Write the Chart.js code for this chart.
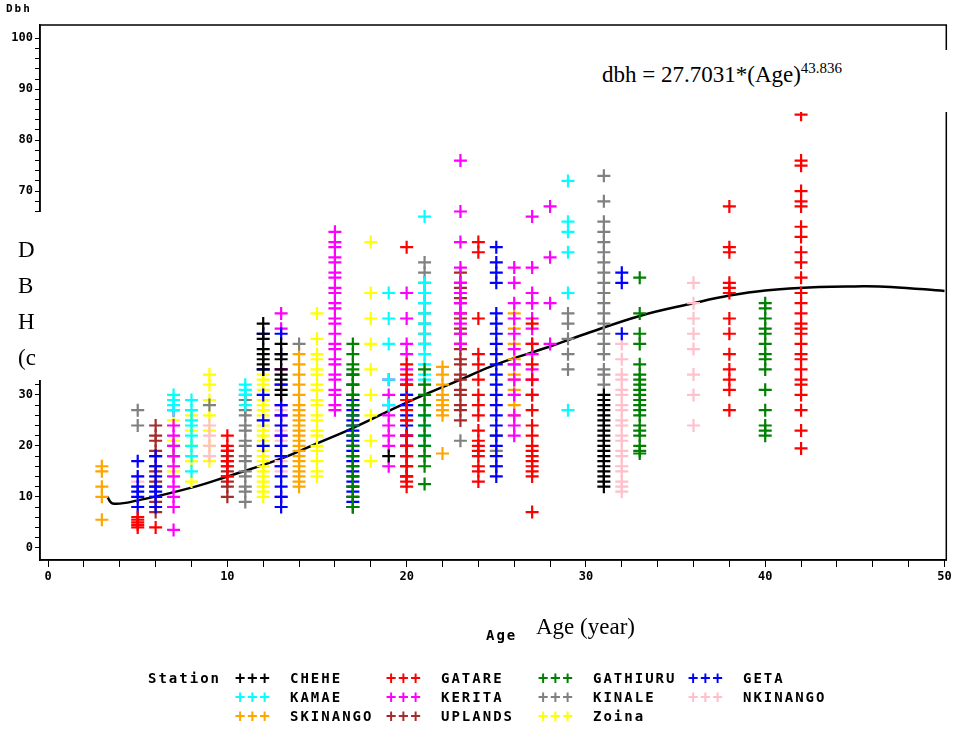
<!DOCTYPE html>
<html lang="en">
<head>
<meta charset="UTF-8">
<title>DBH vs Age</title>
<script src="https://cdn.jsdelivr.net/npm/chart.js"></script>
<style>
    body { margin: 0; background: #fff; }
    #wrap { position: relative; width: 955px; height: 735px; }
    .times { position: absolute; font-family: "Liberation Serif", serif; font-size: 23px; color: #000; background: #fff; }
    .leg { position: absolute; font-family: "DejaVu Sans Mono", monospace; font-weight: bold; font-size: 14px; letter-spacing: 2px; white-space: nowrap; }
</style>
</head>
<body>
<div id="wrap">
    <canvas id="c" width="955" height="735"></canvas>
</div>
<script>
// station data: [age, [dbh values]]
const chehe = [[12, [35, 36, 37, 38, 39, 41, 42, 44]], [13, [30, 31, 33, 34, 35, 37, 38, 40]], [19, [18]], [31, [12, 13, 14, 15, 16, 17, 18, 19, 20, 21, 22, 23, 24, 25, 26, 27, 28, 29, 30]]];
const kamae = [[7, [27, 28, 29, 30]], [8, [15, 18, 20, 22, 24, 25, 27, 29]], [11, [28, 30, 31, 32]], [19, [28, 33, 40, 45, 50]], [21, [18, 20, 22, 24, 26, 28, 30, 32, 33, 34, 36, 38, 40, 42, 44, 46, 48, 50, 52, 65]], [29, [27, 50, 58, 62, 64, 72]]];
const skinango = [[3, [5.5, 10, 12, 15, 16]], [14, [12, 13, 14, 15, 16, 17, 18, 19, 20, 21, 22, 23, 24, 25, 26, 27, 28, 30, 32, 34, 36, 38]], [22, [18.5, 26, 27, 28, 29, 30, 32, 34, 35.5]], [26, [26, 28, 30, 31, 33, 34, 36, 37, 40, 43, 46]]];
const gatare = [[5, [4, 4.5, 5, 5.5, 6]], [6, [4]], [10, [14, 16, 17, 19, 20, 22]], [20, [12, 13, 14, 16, 18, 20, 22, 25, 27, 29, 32, 34, 36, 59]], [24, [13, 15, 16, 18, 19, 20, 21, 23, 26, 28, 30, 33, 36, 38, 45, 58, 60]], [27, [7, 14, 15, 16, 17, 18, 19, 20, 22, 24, 27, 30, 33, 36, 40, 44]], [38, [27, 31, 33, 35, 38, 42, 45, 50, 51, 52, 58, 59, 67]], [42, [19.5, 23, 27, 30, 32, 33, 35, 37, 38, 40, 42, 43, 44, 46, 48, 50, 53, 56, 58, 61, 63, 67, 68, 70, 75, 76, 85]]];
const kerita = [[7, [3.5, 8, 10, 12, 14, 16, 18, 20, 22, 24, 27]], [13, [10, 16, 22, 26, 28, 32, 35, 43, 46]], [16, [27, 28, 30, 31, 33, 34, 36, 37, 39, 40, 42, 44, 45, 47, 48, 50, 51, 53, 54, 56, 57, 59, 60, 62]], [19, [16, 20, 22, 24, 26, 28, 30, 33]], [20, [20, 22, 25, 28, 30, 33, 35, 38, 40, 45, 50]], [23, [40, 42, 44, 46, 48, 50, 52, 55, 60, 66, 76]], [26, [22, 24, 26, 30, 33, 36, 39, 42, 45, 48, 52, 55]], [27, [30, 33, 35, 38, 40, 43, 45, 48, 50, 55, 65]], [28, [40, 48, 57, 67]]];
const uplands = [[6, [7, 9, 10, 12, 13, 15, 16, 18, 19, 21, 22, 24]], [10, [10, 12, 13, 14, 15, 16, 17, 18, 19]], [23, [25, 27, 28, 30, 31, 33, 34, 36, 37, 39, 40, 42, 43, 45, 46, 48, 49, 51, 52, 54]]];
const gathiuru = [[17, [8, 10, 12, 14, 16, 18, 20, 22, 24, 26, 28, 30, 32, 34, 35, 36, 38, 40]], [21, [12.5, 16, 18, 20, 22, 24, 26, 28, 30, 32, 35]], [33, [18.5, 19, 20, 22, 23, 24, 26, 27, 28, 29, 30, 31, 32, 33, 34, 36, 40, 42, 46, 53]], [40, [22, 23, 24, 27, 31, 35, 37, 38, 40, 42, 43, 45, 47, 48]]];
const kinale = [[5, [24, 27]], [7, [18, 20]], [9, [28]], [11, [9, 11, 12, 14, 15, 17, 18, 20, 21, 23, 24, 26, 27, 29, 30]], [14, [40]], [21, [40, 42, 44, 46, 48, 50, 52, 54, 56]], [23, [21]], [25, [16, 19, 22]], [29, [35, 38, 41, 44, 46]], [31, [32, 34, 35, 38, 40, 42, 44, 46, 48, 50, 52, 54, 56, 58, 60, 62, 64, 68, 73]]];
const geta = [[5, [8, 10, 11, 12, 14, 17]], [6, [8, 10, 11, 12, 14, 16, 18]], [12, [20, 25, 30, 35, 42]], [13, [8, 10, 12, 14, 16, 18, 20, 22, 24, 26, 28, 32, 38, 42]], [17, [8, 9, 10, 11, 12, 13, 14, 15, 16, 17, 18, 19, 20, 21, 22, 23, 24, 25, 26, 27, 28, 29, 30, 32, 34]], [20, [14, 16, 18, 20, 22, 24, 26, 28, 30, 32]], [25, [14, 16, 18, 20, 22, 24, 26, 28, 30, 32, 34, 36, 38, 40, 42, 44, 46, 52, 54, 56, 59]], [32, [42, 52, 54]]];
const zoina = [[7, [15, 18, 21, 25]], [8, [13, 17, 20, 23, 26]], [9, [17, 20, 23, 26, 29, 32, 34]], [12, [10, 11, 12, 13, 14, 15, 16, 17, 18, 19, 20, 21, 22, 23, 24, 25, 26, 27, 28, 29, 30, 31, 32, 33, 34]], [15, [14, 15, 17, 19, 20, 22, 23, 25, 26, 28, 29, 31, 32, 34, 35, 37, 38, 41, 46]], [18, [17, 21, 26, 30, 35, 40, 45, 50, 60]]];
const nkinango = [[5, [10, 12, 13, 14]], [9, [18, 20, 22, 24]], [13, [15, 17, 18, 20, 21, 23, 24, 26, 27, 30]], [32, [11, 12, 13, 15, 16, 18, 19, 21, 22, 24, 25, 27, 28, 30, 31, 33, 34, 37, 40]], [36, [24, 30, 34, 39, 42, 45, 48, 52]]];

const stations = [
    ['CHEHE', chehe, '#000000'], ['GATARE', gatare, '#ff0000'], ['GATHIURU', gathiuru, '#008000'], ['GETA', geta, '#0000ff'],
    ['KAMAE', kamae, '#00ffff'], ['KERITA', kerita, '#ff00ff'], ['KINALE', kinale, '#808080'], ['NKINANGO', nkinango, '#ffc0cb'],
    ['SKINANGO', skinango, '#ffa500'], ['UPLANDS', uplands, '#a52a2a'], ['Zoina', zoina, '#ffff00']
];

// fitted curve
const fitAge = [3.3, 3.6, 5, 8, 10, 13, 15, 17, 20, 23, 25, 28, 30, 33, 36, 38, 40, 43, 45, 47, 50];
const fitDbh = [10, 8.7, 9.3, 11.8, 14, 17.5, 20.5, 23.5, 28.5, 33, 36, 39.5, 42, 45.5, 48, 49.5, 50.5, 51.2, 51.3, 51.2, 50.4];

const datasets = stations.map(s => ({
    type: 'scatter',
    label: s[0],
    data: s[1].flatMap(g => g[1].map(v => ({ x: g[0], y: v }))),
    pointStyle: 'cross',
    radius: 6.5,
    borderColor: s[2],
    borderWidth: 2.2
}));
datasets.push({
    type: 'line',
    label: 'fit',
    data: fitAge.map((a, i) => ({ x: a, y: fitDbh[i] })),
    borderColor: '#000',
    borderWidth: 2.5,
    pointRadius: 0,
    tension: 0.4,
    fill: false
});

const frame = {
    id: 'frame',
    afterDraw(chart) {
        const a = chart.chartArea, ctx = chart.ctx;
        ctx.save();
        ctx.strokeStyle = '#000';
        ctx.lineWidth = 1.5;
        ctx.strokeRect(a.left, a.top, a.right - a.left, a.bottom - a.top);
        ctx.restore();
    }
};

const tickFont = { family: 'DejaVu Sans Mono', size: 12, weight: 'bold' };
new Chart(document.getElementById('c'), {
    data: { datasets: datasets },
    options: {
        responsive: false,
        animation: false,
        layout: { padding: { top: 25, right: 5, left: 0, bottom: 125 } },
        plugins: { legend: { display: false }, tooltip: { enabled: false } },
        scales: {
            x: {
                type: 'linear', min: -0.45, max: 50.1,
                afterBuildTicks: s => { s.ticks = []; for (let v = 0; v <= 50; v += 2) s.ticks.push({ value: v }); },
                afterFit: s => { s.height = 50; },
                grid: { drawOnChartArea: false, color: '#000', tickLength: 7 },
                border: { color: '#000', width: 1.5 },
                ticks: { color: '#000', font: tickFont, maxRotation: 0, autoSkip: false, callback: v => v % 10 === 0 ? v : '' }
            },
            y: {
                type: 'linear', min: -2.4, max: 102.6,
                afterBuildTicks: s => { s.ticks = []; for (let v = 0; v <= 100; v += 2) s.ticks.push({ value: v }); },
                afterFit: s => { s.width = 40; },
                grid: { drawOnChartArea: false, color: '#000', tickLength: 5 },
                border: { color: '#000', width: 1.5 },
                ticks: { color: '#000', font: tickFont, padding: 2, autoSkip: false, callback: v => v % 10 === 0 ? v : '' }
            }
        }
    },
    plugins: [frame]
});

// legend
const wrap = document.getElementById('wrap');
function addDiv(cls, text, x, y, color) {
    const d = document.createElement('div');
    d.className = cls;
    d.textContent = text;
    d.style.left = x + 'px';
    d.style.top = y + 'px';
    if (color) d.style.color = color;
    wrap.appendChild(d);
    return d;
}
const colX = [235, 386, 538, 688];
addDiv('leg', 'Station', 148, 670);
stations.forEach((s, i) => {
    const col = i % 4, row = Math.floor(i / 4);
    addDiv('leg', '+++', colX[col], 668 + row * 19, s[2]).style.fontSize = '17px';
    addDiv('leg', s[0], colX[col] + 55, 670 + row * 19);
});
addDiv('leg', 'Dbh', 6, 2).style.fontSize = '11px';
addDiv('leg', 'Age', 486, 627);
</script>
<div class="times" style="left:0;top:212px;width:46px;height:168px;line-height:36px;padding-top:20px;box-sizing:border-box;padding-left:18px;overflow:hidden;">D<br>B<br>H<br>(c</div>
<div class="times" style="left:590px;top:50px;width:358px;height:62px;padding:10px 0 0 12px;box-sizing:border-box;">dbh = 27.7031*(Age)<sup style="font-size:15px;">43.836</sup></div>
<div class="times" style="left:536px;top:614px;background:none;">Age (year)</div>
</body>
</html>
